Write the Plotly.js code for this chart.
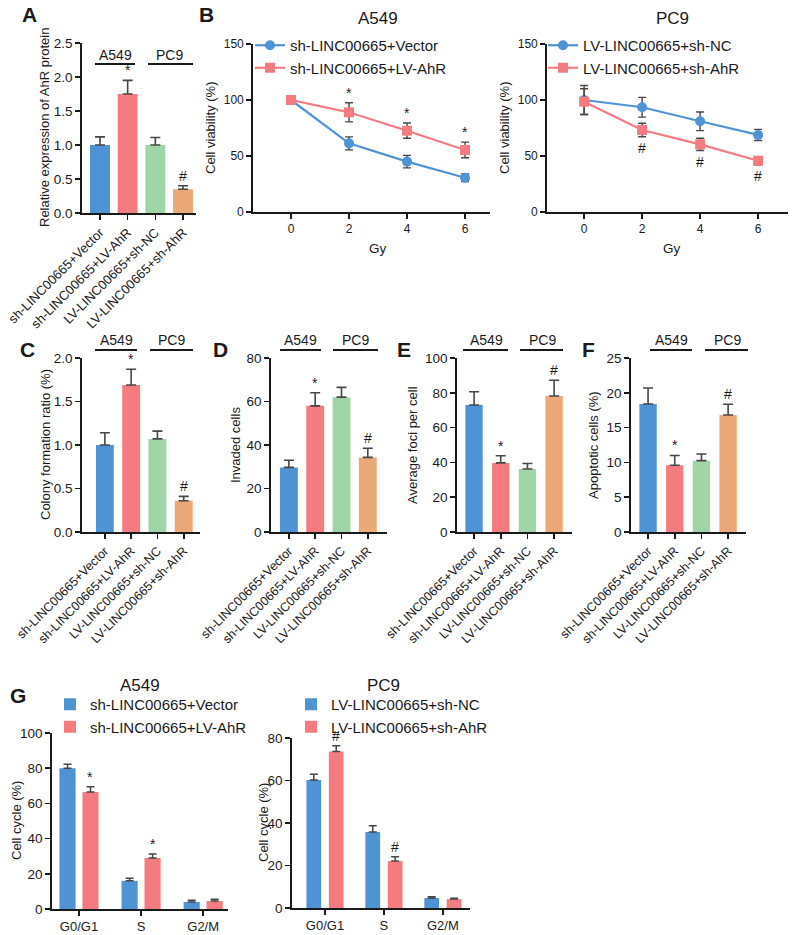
<!DOCTYPE html>
<html><head><meta charset="utf-8">
<script src="https://cdn.plot.ly/plotly-3.0.1.min.js"></script>
<style>html,body{margin:0;padding:0;background:#fff}#chart{width:797px;height:935px}</style>
</head><body><div id="chart"></div>
<script>
// ---------- DATA ----------
const groups = ['sh-LINC00665+Vector','sh-LINC00665+LV-AhR','LV-LINC00665+sh-NC','LV-LINC00665+sh-AhR'];
const barMarks = ['', '*', '', '#'];
const ahrVal = [1.0, 1.75, 1.0, 0.35];
const ahrErr = [0.12, 0.20, 0.11, 0.05];
const colonyVal = [1.0, 1.69, 1.07, 0.36];
const colonyErr = [0.14, 0.18, 0.09, 0.05];
const invadedVal = [29.7, 58, 62, 34.3];
const invadedErr = [3.3, 6, 4.5, 4.2];
const fociVal = [73, 39.7, 36.2, 78.2];
const fociErr = [7.6, 4.1, 3.2, 9];
const fociMarks = ['', '*', '', '#'];
const apopVal = [18.4, 9.6, 10.25, 16.8];
const apopErr = [2.3, 1.4, 0.95, 1.55];

const gy = [0, 2, 4, 6];
const a549Vector = [100, 61.3, 45, 30.6];
const a549VectorErr = [1.5, 5.8, 5.6, 3.4];
const a549AhR = [100, 89, 72.6, 55.4];
const a549AhRErr = [1.5, 8.5, 6.8, 7];
const a549LineMarks = ['', '*', '*', '*'];
const pc9NC = [100, 93.5, 81, 68.8];
const pc9NCErr = [13, 8.8, 8.3, 5];
const pc9AhR = [98.5, 73.2, 60.4, 45.8];
const pc9AhRErr = [11.5, 6, 5.5, 3.6];
const pc9LineMarks = ['', '#', '#', '#'];

const phases = ['G0/G1', 'S', 'G2/M'];
const cycA549Vector = [80, 16, 4];
const cycA549VectorErr = [2.3, 1.5, 1];
const cycA549AhR = [66.5, 29, 4.5];
const cycA549AhRErr = [3, 2.2, 1];
const cycA549Marks = ['*', '*', ''];
const cycPC9NC = [60.2, 35.8, 4.7];
const cycPC9NCErr = [2.7, 2.9, 0.6];
const cycPC9AhR = [73.7, 22.1, 4.2];
const cycPC9AhRErr = [2.7, 2.0, 0.4];
const cycPC9Marks = ['#', '#', ''];

// ---------- STYLE / LAYOUT HELPERS ----------
const W = 797, H = 935;
const px = v => v / W, py = v => 1 - v / H;
const FONT = 'Liberation Sans, Arial, Helvetica, sans-serif';
const INK = '#1a1a1a';
const BLUE = '#5093D4', RED = '#F47C80', GREEN = '#A0D5A8', ORANGE = '#EBA878';
const barColors = [BLUE, RED, GREEN, ORANGE];
const ERR = '#474747';

const traces = [], annotations = [], shapes = [];
const layout = {
  width: W, height: H, margin: {l: 0, r: 0, t: 0, b: 0},
  paper_bgcolor: '#fff', plot_bgcolor: 'rgba(0,0,0,0)',
  font: {family: FONT, color: INK, size: 13},
  showlegend: true, annotations, shapes
};

function axisBase(extra) {
  return Object.assign({
    showgrid: false, zeroline: false, showline: true, linecolor: INK, linewidth: 1.8,
    ticks: 'outside', ticklen: 5, tickwidth: 1.6, tickcolor: INK,
    tickfont: {family: FONT, size: 13, color: INK}, fixedrange: true
  }, extra);
}
function text(x, y, t, size, opts) {
  annotations.push(Object.assign({
    x: px(x), y: py(y), xref: 'paper', yref: 'paper', text: t, showarrow: false,
    font: {family: FONT, size: size, color: INK}, xanchor: 'center', yanchor: 'middle'
  }, opts || {}));
}
function ytitle(x, y, t) { text(x, y, t, 13, {textangle: -90}); }
function panelLabel(x, y, t) { text(x, y, '<b>' + t + '</b>', 21); }
function groupLabel(cx, ty, lineY, x0, x1, t) {
  text(cx, ty, t, 14);
  shapes.push({type: 'line', xref: 'paper', yref: 'paper', x0: px(x0), x1: px(x1), y0: py(lineY), y1: py(lineY), line: {color: INK, width: 2}});
}
function sig(xa, ya, x, y, t, below) {
  annotations.push({
    x: x, y: y, xref: xa, yref: ya, text: t, showarrow: false,
    font: {family: FONT, size: 14, color: INK},
    xanchor: 'center', yanchor: below ? 'top' : 'bottom', yshift: below ? -1 : 0
  });
}

function barPanel(n, vals, errs, marks, c) {
  const xa = 'x' + n, ya = 'y' + n;
  traces.push({
    type: 'bar', x: groups, y: vals, xaxis: xa, yaxis: ya, width: c.bw, showlegend: false,
    marker: {color: barColors, line: {width: 0}},
    error_y: {type: 'data', symmetric: false, array: errs, arrayminus: errs.map(() => 0), color: ERR, thickness: 1.6, width: 5}
  });
  layout['xaxis' + n] = axisBase({
    domain: [px(c.xd[0]), px(c.xd[1])], anchor: ya, type: 'category', range: c.xr,
    tickangle: -45, tickfont: {family: FONT, size: c.cf, color: INK}
  });
  layout['yaxis' + n] = axisBase({
    domain: [py(c.yd[1]), py(c.yd[0])], anchor: xa, range: c.yr, dtick: c.dt, tick0: 0,
    tickformat: c.fmt || '', tickfont: {family: FONT, size: c.tf, color: INK}
  });
  vals.forEach((v, i) => { if (marks[i]) sig(xa, ya, i, v + errs[i], marks[i]); });
}

// ---------- PANEL A ----------
barPanel('', ahrVal, ahrErr, barMarks, {xd: [82, 196], yd: [43, 213], xr: [-0.65, 3.47], yr: [0, 2.5], dt: 0.5, fmt: '.1f', bw: 0.72, cf: 13, tf: 13.5});
panelLabel(30, 14, 'A');
ytitle(44, 128, 'Relative expression of AhR protein');
groupLabel(115, 55, 64, 95, 135, 'A549');
groupLabel(169, 55, 64, 148, 193, 'PC9');

// ---------- PANEL C-F ----------
barPanel(4, colonyVal, colonyErr, barMarks, {xd: [82, 200], yd: [358, 532], xr: [-0.87, 3.62], yr: [0, 2], dt: 0.5, fmt: '.1f', bw: 0.68, cf: 12.5, tf: 13.5});
panelLabel(27, 349, 'C');
ytitle(45, 445, 'Colony formation ratio (%)');
groupLabel(116, 340, 350, 95, 137, 'A549');
groupLabel(171, 340, 350, 150, 193, 'PC9');

barPanel(5, invadedVal, invadedErr, barMarks, {xd: [271, 387], yd: [358, 532], xr: [-0.68, 3.73], yr: [0, 80], dt: 20, bw: 0.68, cf: 12.5, tf: 13.5});
panelLabel(220, 349, 'D');
ytitle(235, 445, 'Invaded cells');
groupLabel(300, 340, 350, 280, 321, 'A549');
groupLabel(355, 340, 350, 333, 378, 'PC9');

barPanel(6, fociVal, fociErr, fociMarks, {xd: [457, 572], yd: [358, 532], xr: [-0.64, 3.67], yr: [0, 100], dt: 20, bw: 0.65, cf: 12.5, tf: 13.5});
panelLabel(404, 349, 'E');
ytitle(412, 445, 'Average foci per cell');
groupLabel(486, 340, 350, 463, 508, 'A549');
groupLabel(542, 340, 350, 520, 563, 'PC9');

barPanel(7, apopVal, apopErr, barMarks, {xd: [631, 746], yd: [358, 532], xr: [-0.64, 3.67], yr: [0, 25], dt: 5, bw: 0.65, cf: 12.5, tf: 13.5});
panelLabel(588, 349, 'F');
ytitle(593, 445, 'Apoptotic cells (%)');
groupLabel(671, 340, 350, 650, 692, 'A549');
groupLabel(727, 340, 350, 705, 748, 'PC9');

// ---------- PANEL B ----------
function linePanel(n, s1, e1, n1, s2, e2, n2, marks, below, c) {
  const xa = 'x' + n, ya = 'y' + n;
  const mk = (y, e, name, col, sym) => ({
    type: 'scatter', mode: 'lines+markers', x: gy, y: y, name: name, xaxis: xa, yaxis: ya, legend: c.leg,
    line: {color: col, width: 2.2}, marker: {color: col, size: 10, symbol: sym},
    error_y: {type: 'data', array: e, color: ERR, thickness: 1.4, width: 4}
  });
  traces.push(mk(s1, e1, n1, BLUE, 'circle'));
  traces.push(mk(s2, e2, n2, RED, 'square'));
  layout['xaxis' + n] = axisBase({domain: [px(c.xd[0]), px(c.xd[1])], anchor: ya, range: c.xr, tickvals: gy, tickfont: {family: FONT, size: 12, color: INK}});
  layout['yaxis' + n] = axisBase({domain: [py(212), py(44)], anchor: xa, range: [0, 150], dtick: 50, tickfont: {family: FONT, size: 12, color: INK}});
  s2.forEach((v, i) => { if (marks[i]) sig(xa, ya, gy[i], below ? v - e2[i] : v + e2[i], marks[i], below); });
  layout[c.leg] = {x: px(c.lx), y: py(29), xanchor: 'left', yanchor: 'top', bgcolor: 'rgba(0,0,0,0)',
    font: {family: FONT, size: 15, color: INK}, itemwidth: 30, traceorder: 'normal'};
}
linePanel(2, a549Vector, a549VectorErr, 'sh-LINC00665+Vector', a549AhR, a549AhRErr, 'sh-LINC00665+LV-AhR', a549LineMarks, false,
  {xd: [253, 490], xr: [-1.31, 6.86], leg: 'legend', lx: 250});
linePanel(3, pc9NC, pc9NCErr, 'LV-LINC00665+sh-NC', pc9AhR, pc9AhRErr, 'LV-LINC00665+sh-AhR', pc9LineMarks, true,
  {xd: [547, 788], xr: [-1.28, 7.03], leg: 'legend2', lx: 543});
panelLabel(207, 14, 'B');
text(378, 18, 'A549', 17);
text(672, 18, 'PC9', 17);
text(378, 248, 'Gy', 13.5);
text(672, 248, 'Gy', 13.5);
ytitle(210, 128, 'Cell viability (%)');
ytitle(504, 128, 'Cell viability (%)');

// ---------- PANEL G ----------
function cyclePanel(n, s1, e1, n1, s2, e2, n2, marks, c) {
  const xa = 'x' + n, ya = 'y' + n;
  const hw = c.bw / 2;
  const mk = (y, e, name, col, ctr) => ({
    type: 'bar', x: phases, y: y, name: name, xaxis: xa, yaxis: ya, legend: c.leg,
    width: c.bw, offset: ctr - hw, marker: {color: col},
    error_y: {type: 'data', symmetric: false, array: e, arrayminus: e.map(() => 0), color: ERR, thickness: 1.5, width: 4}
  });
  traces.push(mk(s1, e1, n1, BLUE, -c.sep));
  traces.push(mk(s2, e2, n2, RED, c.sep));
  layout['xaxis' + n] = axisBase({domain: [px(c.xd[0]), px(c.xd[1])], anchor: ya, type: 'category', range: c.xr, tickfont: {family: FONT, size: 13, color: INK}});
  layout['yaxis' + n] = axisBase({domain: [py(c.yd[1]), py(c.yd[0])], anchor: xa, range: c.yr, dtick: 20, tickfont: {family: FONT, size: 13.5, color: INK}});
  s2.forEach((v, i) => { if (marks[i]) sig(xa, ya, i + c.sep, v + e2[i], marks[i]); });
  layout[c.leg] = {x: px(c.lx), y: py(c.ly), xanchor: 'left', yanchor: 'top', bgcolor: 'rgba(0,0,0,0)',
    font: {family: FONT, size: 15, color: INK}, itemwidth: 30, traceorder: 'normal'};
}
cyclePanel(8, cycA549Vector, cycA549VectorErr, 'sh-LINC00665+Vector', cycA549AhR, cycA549AhRErr, 'sh-LINC00665+LV-AhR', cycA549Marks,
  {xd: [52, 228], yd: [733, 909], xr: [-0.435, 2.40], yr: [0, 100], bw: 0.26, sep: 0.185, leg: 'legend3', lx: 50, ly: 688});
cyclePanel(9, cycPC9NC, cycPC9NCErr, 'LV-LINC00665+sh-NC', cycPC9AhR, cycPC9AhRErr, 'LV-LINC00665+sh-AhR', cycPC9Marks,
  {xd: [292, 470], yd: [738, 908], xr: [-0.56, 2.46], yr: [0, 80], bw: 0.25, sep: 0.19, leg: 'legend4', lx: 291, ly: 688});
panelLabel(18, 695, 'G');
text(140, 685, 'A549', 17);
text(383, 685, 'PC9', 17);
ytitle(16, 821, 'Cell cycle (%)');
ytitle(263, 823, 'Cell cycle (%)');

Plotly.newPlot('chart', traces, layout, {staticPlot: true, displayModeBar: false});
</script>
</body></html>
